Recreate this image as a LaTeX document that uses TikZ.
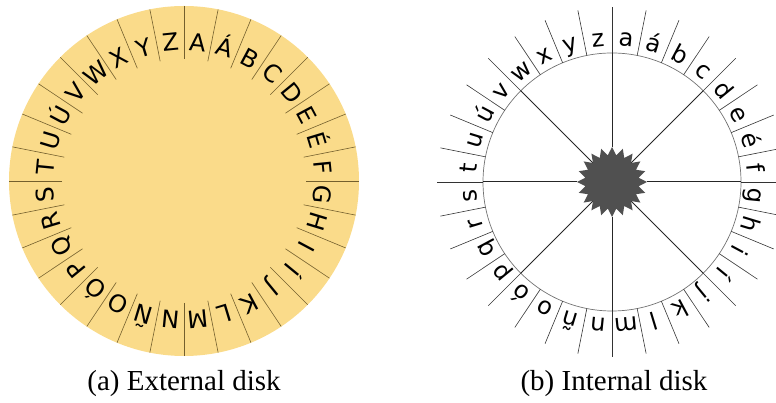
\documentclass[tikz,border=0pt]{standalone}
\usepackage{fontspec}
\setmainfont{Liberation Serif}
\newfontfamily\diskfont{DejaVu Sans}
\usetikzlibrary{shapes.geometric}
\definecolor{diskyellow}{RGB}{250,219,138}
\definecolor{divbrown}{RGB}{115,95,45}
\definecolor{stargray}{RGB}{80,80,80}

\begin{document}
\begin{tikzpicture}[x=1pt, y=1pt,
		letter/.style={font=\diskfont\fontsize{24}{24}\selectfont, anchor=base, inner sep=0pt},
		caption/.style={font=\fontsize{29}{29}\selectfont, anchor=base, inner sep=0pt},
		divider/.style={line width=0.6pt}]
	\useasboundingbox (0,0) rectangle (776,403);
	% Aeussere Scheibe
	\begin{scope}[shift={(184,222)}]
		\fill[diskyellow] (0,0) circle (175);
		\foreach \k in {0,...,31} \draw[divider, divbrown] (90-11.25*\k:122) -- (90-11.25*\k:175);
		\foreach \l [count=\i from 0] in {A,Á,B,C,D,E,É,F,G,H,I,Í,J,K,L,M,N,Ñ,O,Ó,P,Q,R,S,T,U,Ú,V,W,X,Y,Z}
			\node[letter, rotate={-11.25*(\i+0.5)}] (ext-\i) at ({90-11.25*(\i+0.5)}:130.5) {\l};
	\end{scope}
	% Innere Scheibe
	\begin{scope}[shift={(612,221)}]
		\draw[black!55, line width=0.7pt] (0,0) circle (129);
		\foreach \k in {0,...,31} \draw[divider, black!80] (90-11.25*\k:129) -- (90-11.25*\k:175);
		\foreach \l [count=\i from 0] in {a,á,b,c,d,e,é,f,g,h,i,í,j,k,l,m,n,ñ,o,ó,p,q,r,s,t,u,ú,v,w,x,y,z}
			\node[letter, rotate={-11.25*(\i+0.5)}] (int-\i) at ({90-11.25*(\i+0.5)}:136) {\l};
		% Stern in der Mitte
		\node[star, star points=20, star point ratio=1.3, minimum size=70, inner sep=0pt, fill=stargray] (hub) at (0,0) {};
		\foreach \a in {0,45,...,315} \draw[black!85, line width=1pt] (hub) -- (\a:129);
	\end{scope}
	% Beschriftung
	\node[caption] (capa) at (184,12) {(a) External disk};
	\node[caption] (capb) at (614,12) {(b) Internal disk};
\end{tikzpicture}
\end{document}
